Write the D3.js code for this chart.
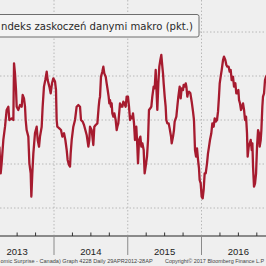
<!DOCTYPE html>
<html><head><meta charset="utf-8">
<script src="https://cdn.jsdelivr.net/npm/d3@7"></script>
<style>html,body{margin:0;padding:0;background:#efefef;overflow:hidden}</style>
</head><body><svg id="c" width="266" height="266"></svg>
<script>
const titleText = "ndeks zaskoczeń danymi makro (pkt.)";
const yearLabels = [2013, 2014, 2015, 2016];
const gridValues = [100, 50, 0, -50, -100];
const footerLeft = "omic Surprise - Canada) Graph 4228  Daily 29APR2012-28AP";
const footerRight = "Copyright\u00A9 2017 Bloomberg Finance L.P";
const years = [2013.259,2013.277,2013.290,2013.313,2013.336,2013.358,2013.381,2013.394,2013.426,2013.449,2013.458,2013.471,2013.485,2013.494,2013.516,2013.539,2013.562,2013.575,2013.593,2013.607,2013.616,2013.629,2013.652,2013.666,2013.684,2013.693,2013.706,2013.720,2013.742,2013.765,2013.779,2013.797,2013.810,2013.833,2013.846,2013.864,2013.882,2013.901,2013.914,2013.937,2013.955,2013.973,2013.991,2014.014,2014.027,2014.036,2014.045,2014.072,2014.095,2014.113,2014.136,2014.154,2014.172,2014.185,2014.203,2014.217,2014.226,2014.240,2014.262,2014.285,2014.307,2014.330,2014.353,2014.366,2014.389,2014.407,2014.425,2014.443,2014.466,2014.479,2014.488,2014.511,2014.533,2014.547,2014.565,2014.588,2014.606,2014.615,2014.624,2014.637,2014.655,2014.669,2014.682,2014.701,2014.714,2014.728,2014.741,2014.750,2014.759,2014.773,2014.782,2014.791,2014.805,2014.818,2014.836,2014.850,2014.859,2014.872,2014.895,2014.913,2014.927,2014.940,2014.954,2014.972,2014.985,2015.003,2015.017,2015.031,2015.044,2015.062,2015.071,2015.085,2015.098,2015.116,2015.130,2015.139,2015.153,2015.171,2015.184,2015.198,2015.216,2015.229,2015.243,2015.261,2015.275,2015.288,2015.306,2015.320,2015.333,2015.351,2015.365,2015.379,2015.388,2015.401,2015.415,2015.428,2015.442,2015.455,2015.469,2015.478,2015.487,2015.501,2015.514,2015.523,2015.537,2015.555,2015.568,2015.587,2015.596,2015.614,2015.627,2015.636,2015.659,2015.672,2015.686,2015.704,2015.718,2015.731,2015.749,2015.758,2015.772,2015.786,2015.795,2015.808,2015.817,2015.831,2015.849,2015.867,2015.885,2015.898,2015.912,2015.926,2015.939,2015.953,2015.966,2015.975,2015.989,2016.002,2016.016,2016.029,2016.043,2016.057,2016.075,2016.088,2016.102,2016.115,2016.133,2016.147,2016.165,2016.179,2016.192,2016.210,2016.224,2016.237,2016.247,2016.260,2016.274,2016.292,2016.305,2016.323,2016.337,2016.350,2016.368,2016.382,2016.396,2016.409,2016.427,2016.441,2016.459,2016.472,2016.486,2016.500,2016.509,2016.522,2016.536,2016.549,2016.563,2016.577,2016.590,2016.604,2016.617,2016.626,2016.640,2016.654,2016.667,2016.681,2016.690,2016.699,2016.712,2016.726,2016.740,2016.753,2016.767,2016.780,2016.789,2016.803,2016.812,2016.825,2016.834,2016.848,2016.861,2016.875,2016.902];
const values = [-30.3,-60.6,-49.2,-22.7,-7.6,11.4,15.1,0.0,1.9,0.0,64.4,53.0,34.1,15.1,11.4,17.0,15.1,28.4,24.6,15.1,0.0,-11.4,-18.9,-49.2,-60.6,-87.1,-60.6,-37.9,-15.1,-7.6,-22.7,-30.3,-18.9,-7.6,15.1,37.9,45.4,54.9,45.4,37.9,30.3,41.7,47.3,43.6,34.1,0.0,-7.6,-9.5,-11.4,-18.9,-15.1,-22.7,-34.1,-45.4,-51.1,-53.0,-37.9,-22.7,-7.6,0.0,15.1,17.0,15.1,0.0,-1.9,-5.7,-11.4,-17.0,-30.3,-22.7,-7.6,-11.4,-28.4,-7.6,-5.7,-3.8,15.1,22.7,26.5,49.2,54.9,60.6,53.0,49.2,41.7,34.1,26.5,18.9,22.7,15.1,18.9,7.6,3.8,7.6,0.0,-11.4,-7.6,-3.8,18.9,15.1,15.1,20.8,18.9,15.1,26.5,26.5,15.1,0.0,3.8,1.9,7.6,-3.8,-22.7,-7.6,-30.3,-49.2,-22.7,-18.9,-30.3,-26.5,-34.1,-60.6,-53.0,-41.7,-22.7,11.4,13.3,15.1,26.5,37.9,36.0,56.8,37.9,11.4,41.7,60.6,68.2,73.9,60.6,53.0,41.7,26.5,15.1,0.0,-3.8,-3.8,-9.5,-18.9,-26.5,-18.9,-11.4,-1.9,3.8,15.1,26.5,37.9,24.6,36.0,34.1,39.8,37.9,41.7,37.9,26.5,30.3,32.2,30.3,20.8,9.5,0.0,-34.1,-41.7,-32.2,-45.4,-54.9,-68.2,-72.0,-87.1,-89.0,-79.5,-60.6,-60.6,-49.2,-37.9,-30.3,-22.7,-15.1,-3.8,-7.6,1.9,-1.9,0.0,9.5,26.5,41.7,49.2,56.8,68.2,72.0,68.2,62.5,60.6,60.6,54.9,56.8,45.4,49.2,37.9,41.7,30.3,30.3,34.1,22.7,18.9,11.4,15.1,18.9,11.4,0.0,3.8,-15.1,-41.7,-30.3,-26.5,-22.7,-34.1,-26.5,-53.0,-75.8,-72.0,-60.6,-30.3,-11.4,-15.1,-30.3,-22.7,-11.4,15.1,26.5,30.3,45.4,49.2,53.0];

const svg = d3.select("#c");
const W = 266, H = 266, axisY = 236;
const x = d3.scaleLinear().domain([2014, 2016]).range([54, 201.5]);
const y = d3.scaleLinear().domain([-100, 100]).range([208, 32]);

svg.append("rect").attr("width", W).attr("height", H).attr("fill", "#efefef");

// horizontal gridlines
svg.append("g").selectAll("line").data(gridValues).join("line")
  .attr("x1", 0).attr("x2", W).attr("y1", d => y(d)).attr("y2", d => y(d))
  .attr("stroke", "#b8b8b8").attr("stroke-width", 1).attr("stroke-dasharray", "1.5,2");

// vertical gridlines at year boundaries
const yearBounds = d3.range(2013, 2018);
svg.append("g").selectAll("line").data(yearBounds).join("line")
  .attr("x1", d => x(d)).attr("x2", d => x(d)).attr("y1", 0).attr("y2", axisY)
  .attr("stroke", "#b8b8b8").attr("stroke-width", 1).attr("stroke-dasharray", "1.5,2");

// data line
const line = d3.line().x((d, i) => x(years[i])).y((d, i) => y(values[i]));
svg.append("path").datum(values).attr("d", line)
  .attr("fill", "none").attr("stroke", "#a61b2f").attr("stroke-width", 2.3)
  .attr("stroke-linejoin", "round");

// axis line
svg.append("line").attr("x1", 0).attr("x2", W).attr("y1", axisY).attr("y2", axisY)
  .attr("stroke", "#8a8a8a").attr("stroke-width", 2);

// quarter ticks
const quarters = d3.range(2013, 2017.01, 0.25).filter(q => q % 1 !== 0);
svg.append("g").selectAll("line").data(quarters).join("line")
  .attr("x1", d => x(d)).attr("x2", d => x(d)).attr("y1", axisY - 3.5).attr("y2", axisY)
  .attr("stroke", "#333").attr("stroke-width", 1);

// year separators below axis
svg.append("g").selectAll("line").data(yearBounds).join("line")
  .attr("x1", d => x(d)).attr("x2", d => x(d)).attr("y1", axisY).attr("y2", 255)
  .attr("stroke", "#8a8a8a").attr("stroke-width", 1);

// year labels
svg.append("g").selectAll("text").data(yearLabels).join("text")
  .attr("x", d => x(d + 0.5)).attr("y", 255)
  .attr("text-anchor", "middle").attr("font-family", "Liberation Sans, Arial, sans-serif")
  .attr("font-size", 9.5).attr("fill", "#222").text(d => d);

// footer, sized to fit its span
function fitText(str, x0, x1, yy) {
  const t = svg.append("text").attr("x", x0).attr("y", yy)
    .attr("font-family", "Liberation Sans, Arial, sans-serif").attr("font-size", 6)
    .attr("fill", "#444").text(str);
  const w = t.node().getComputedTextLength();
  t.attr("font-size", 6 * (x1 - x0) / w);
  return t;
}
fitText(footerLeft, 0.5, 153, 263);
fitText(footerRight, 165, 264.5, 263);

// title box
svg.append("rect").attr("x", -10).attr("y", 14.5).attr("width", 209).attr("height", 22.5)
  .attr("rx", 2).attr("fill", "#f4f4f4").attr("stroke", "#6e6e6e").attr("stroke-width", 1);
const tt = svg.append("text").attr("x", 1).attr("y", 30)
  .attr("font-family", "DejaVu Sans, Verdana, sans-serif").attr("font-size", 10.5)
  .attr("fill", "#2a2a2a").text(titleText);
const tw = tt.node().getComputedTextLength();
tt.attr("textLength", 192).attr("lengthAdjust", "spacingAndGlyphs");
if (tw < 192) tt.attr("textLength", null);
</script></body></html>
